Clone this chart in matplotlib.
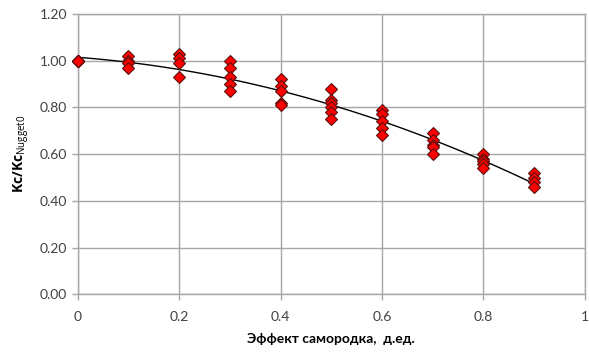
import numpy as np
import matplotlib
matplotlib.use('Agg')
import matplotlib.pyplot as plt

plt.rcParams['font.family'] = ['Lato', 'Open Sans', 'DejaVu Sans']
plt.rcParams['mathtext.fontset'] = 'custom'
plt.rcParams['mathtext.rm'] = 'Open Sans'
plt.rcParams['mathtext.bf'] = 'Open Sans:bold'

# nugget effect levels and measured ratios (all runs at 0 overlap at 1.00)
nugget = [0.0, 0.1, 0.2, 0.3, 0.4, 0.5, 0.6, 0.7, 0.8, 0.9]
ratios = [
    [1.00, 1.00, 1.00, 1.00, 1.00],
    [1.02, 1.00, 0.99, 0.97],
    [1.03, 1.01, 0.99, 0.93],
    [1.00, 0.97, 0.93, 0.90, 0.87],
    [0.92, 0.89, 0.87, 0.82, 0.81],
    [0.88, 0.83, 0.82, 0.80, 0.78, 0.75],
    [0.79, 0.77, 0.74, 0.71, 0.68],
    [0.69, 0.66, 0.64, 0.63, 0.60],
    [0.60, 0.58, 0.57, 0.56, 0.54],
    [0.52, 0.50, 0.48, 0.46],
]

xs = np.concatenate([[n] * len(r) for n, r in zip(nugget, ratios)])
ys = np.concatenate(ratios)

# polynomial trendline (2nd order) fitted to the points
coef = np.polyfit(xs, ys, 2)
xt = np.linspace(0, 0.9, 100)
yt = np.polyval(coef, xt)

fig = plt.figure(figsize=(5.89, 3.54), dpi=100)
ax = fig.add_axes([0.132, 0.169, 0.861, 0.791])

ax.plot(xt, yt, color='black', linewidth=1, zorder=2)
ax.plot(xs, ys, linestyle='none', marker='D', markersize=6.5,
        markerfacecolor='#ff0000', markeredgecolor='#5a1010',
        markeredgewidth=0.8, zorder=3, clip_on=False)

ax.set_xlim(0, 1)
ax.set_ylim(0, 1.2)
ax.set_xticks([0, 0.2, 0.4, 0.6, 0.8, 1])
ax.set_xticklabels(['0', '0.2', '0.4', '0.6', '0.8', '1'])
ax.set_yticks(np.arange(0, 1.21, 0.2))
ax.set_yticklabels([f'{v:.2f}' for v in np.arange(0, 1.21, 0.2)])

ax.grid(True, color='#a6a6a6', linewidth=1)
ax.set_axisbelow(True)
for s in ax.spines.values():
    s.set_color('#a6a6a6')
    s.set_linewidth(1)
ax.tick_params(axis='both', colors='#a6a6a6', labelcolor='#404040',
               labelsize=10, length=4, width=1)
ax.tick_params(axis='x', pad=8)

ax.set_xlabel('Эффект самородка,  д.ед.', fontsize=10, fontweight='bold', labelpad=7)
ax.set_ylabel(r'$\mathbf{Kc/Kc}_{\mathrm{Nugget0}}$', fontsize=10, labelpad=6)

fig.savefig('out.png', dpi=100)
